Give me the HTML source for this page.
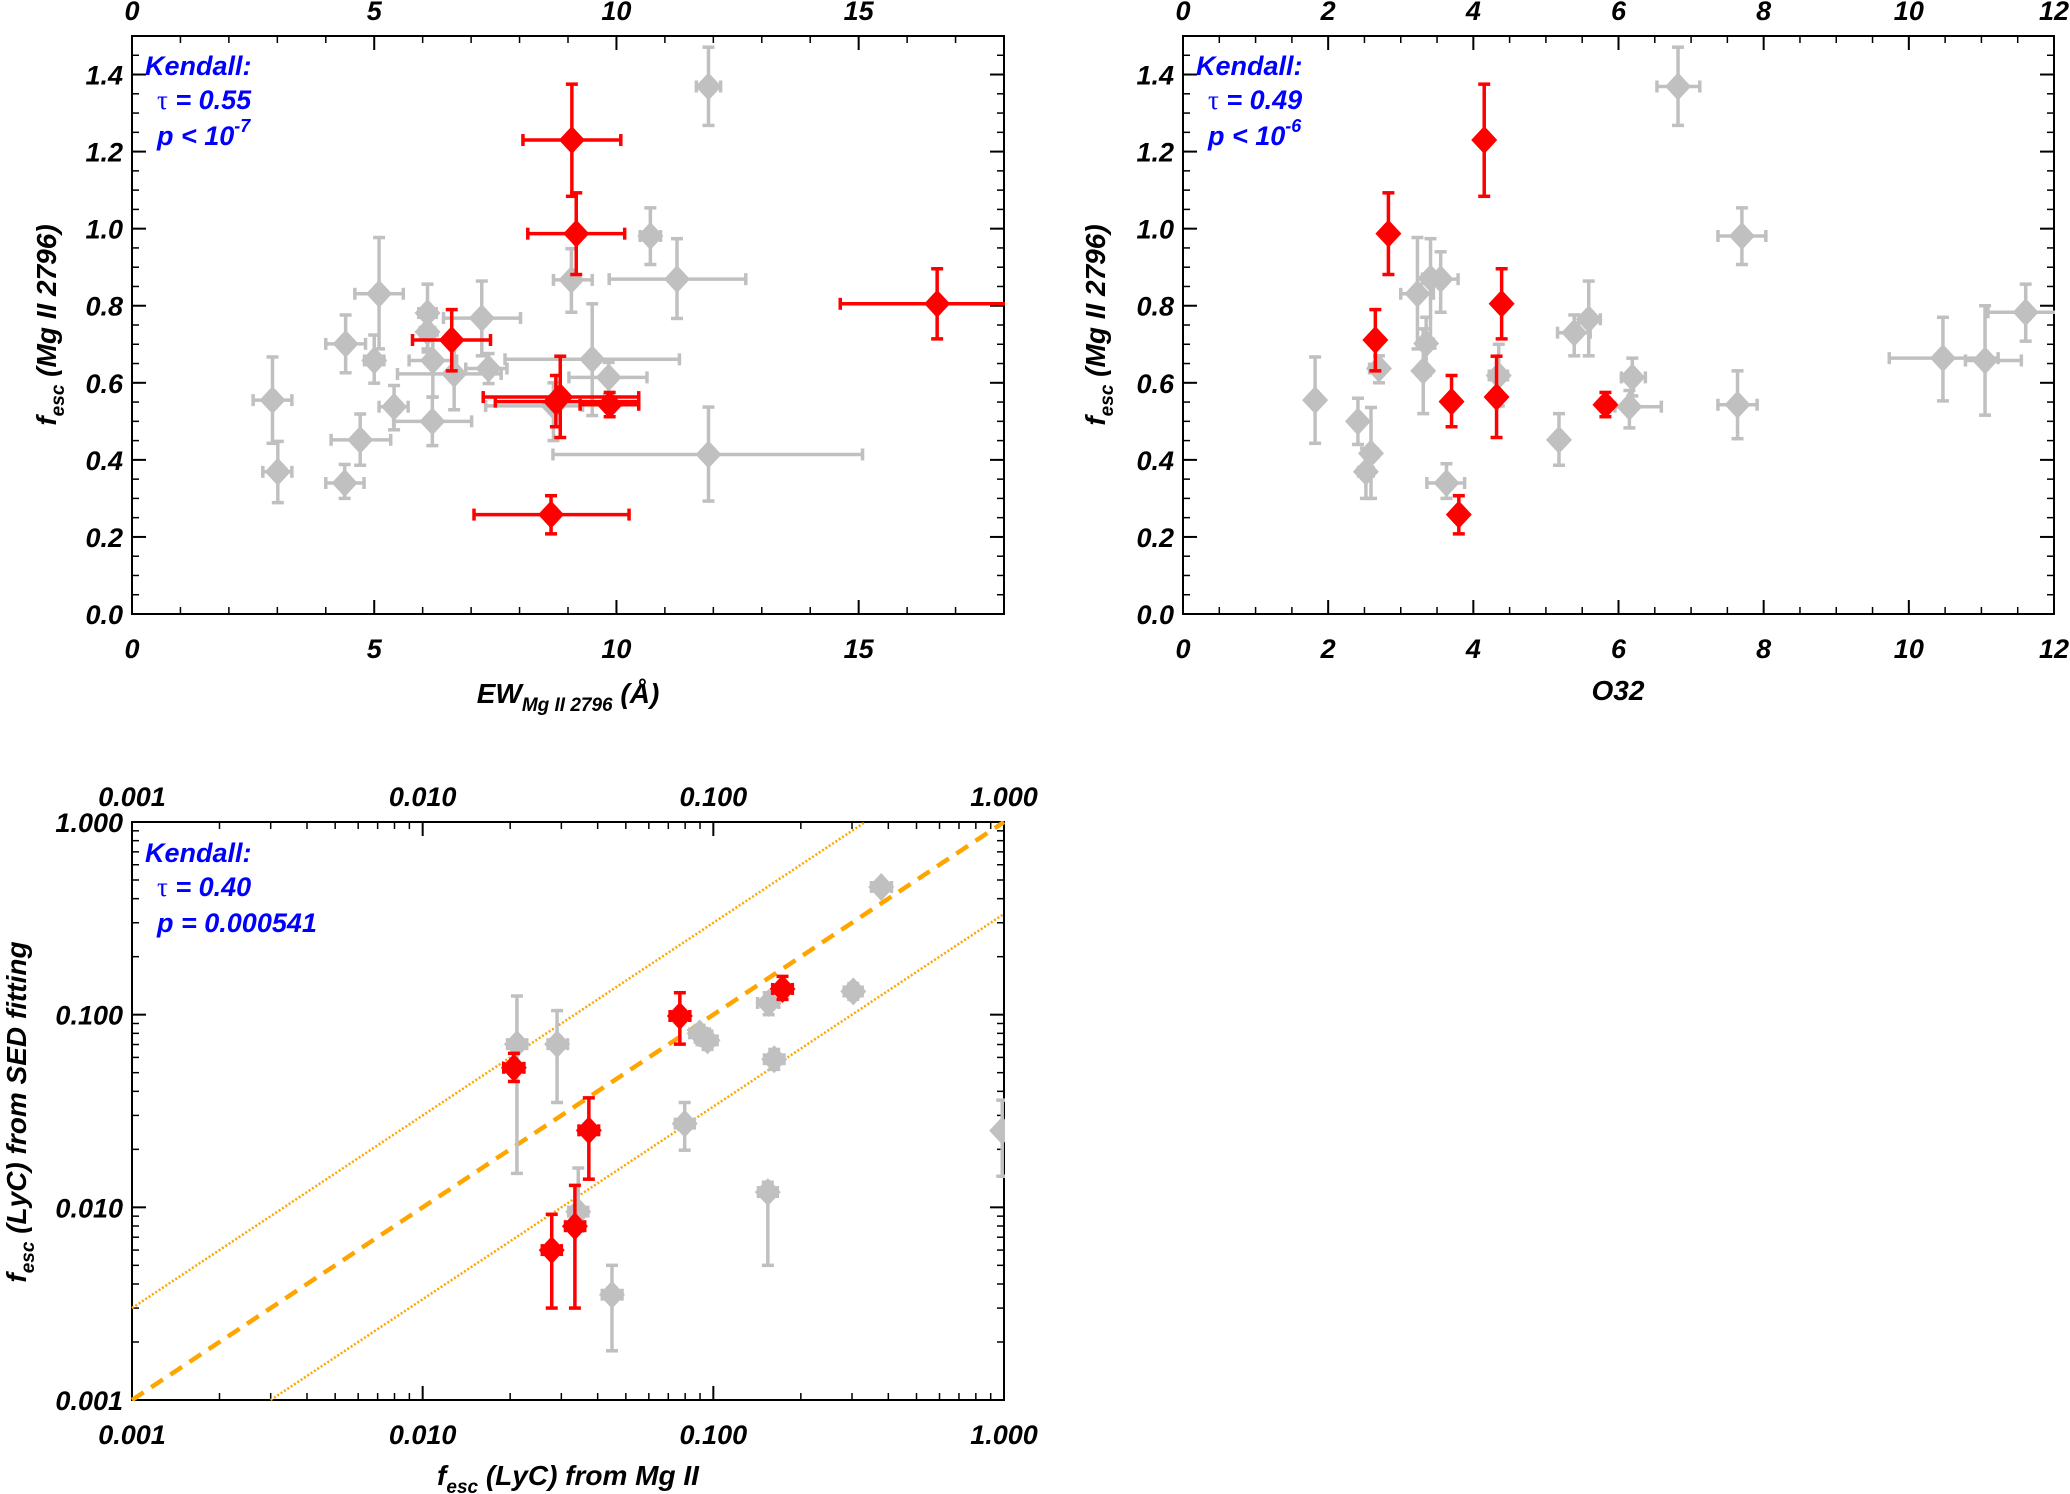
<!DOCTYPE html>
<html><head><meta charset="utf-8">
<style>
html,body{margin:0;padding:0;background:#fff;}
svg{display:block;}
text{font-family:"Liberation Sans Narrow","Liberation Sans",sans-serif;font-weight:bold;font-style:italic;}
</style></head>
<body>
<svg id="fig" width="2070" height="1494" viewBox="0 0 2070 1494" xmlns="http://www.w3.org/2000/svg"></svg>
<script>
// ---------- Panel A data: EW vs fesc ----------
const aRedX   = [9.08, 9.17, 16.62, 6.6, 8.84, 8.75, 9.86, 8.65];
const aRedY   = [1.23, 0.987, 0.805, 0.711, 0.563, 0.551, 0.543, 0.258];
const aRedXlo = [8.07, 8.17, 14.62, 5.79, 7.25, 7.5, 9.25, 7.06];
const aRedXhi = [10.09,10.17,18.6, 7.4, 10.46,10.46,10.46,10.26];
const aRedYlo = [1.084,0.881,0.714,0.631,0.458,0.486,0.512,0.208];
const aRedYhi = [1.375,1.093,0.896,0.79, 0.669,0.619,0.575,0.307];
const aGrX   = [11.9,10.7,11.25,9.07,5.1,6.1,7.22,6.1,4.41,5.0,6.21,9.5,7.36,6.65,9.84,2.9,5.41,8.7,6.2,4.71,11.9,3.01,4.39];
const aGrY   = [1.369,0.981,0.869,0.867,0.831,0.781,0.768,0.732,0.701,0.658,0.658,0.661,0.637,0.623,0.614,0.555,0.538,0.54,0.5,0.452,0.414,0.369,0.34];
const aGrXlo = [11.65,10.49,9.85,8.7,4.6,5.92,6.43,5.95,4.0,4.8,5.72,7.7,6.89,5.48,9.02,2.5,5.1,7.3,5.4,4.11,8.69,2.7,4.0];
const aGrXhi = [12.15,10.91,12.67,9.5,5.6,6.28,8.02,6.25,4.82,5.2,6.7,11.3,7.74,7.62,10.63,3.3,5.7,9.3,7.01,5.34,15.08,3.3,4.79];
const aGrYlo = [1.268,0.907,0.767,0.783,0.688,0.688,0.67,0.68,0.626,0.599,0.563,0.515,0.598,0.53,0.569,0.443,0.478,0.45,0.437,0.386,0.293,0.289,0.3];
const aGrYhi = [1.471,1.054,0.974,0.948,0.977,0.856,0.864,0.78,0.776,0.724,0.724,0.805,0.676,0.705,0.653,0.667,0.593,0.6,0.563,0.519,0.537,0.448,0.388];
// ---------- Panel B data: O32 vs fesc ----------
const bRedX   = [4.15,2.83,4.39,2.65,3.7,4.32,5.82,3.8];
const bRedY   = [1.23,0.987,0.805,0.711,0.551,0.563,0.543,0.258];
const bRedYlo = [1.084,0.881,0.714,0.631,0.486,0.458,0.512,0.208];
const bRedYhi = [1.375,1.093,0.896,0.79,0.619,0.669,0.575,0.307];
const bGrX   = [6.82,7.7,3.23,3.41,3.55,5.59,5.39,3.35,2.7,3.31,4.35,6.19,1.82,6.15,7.64,2.41,2.59,2.52,5.18,3.63,10.47,11.05,11.61];
const bGrY   = [1.369,0.981,0.831,0.871,0.869,0.765,0.73,0.702,0.637,0.631,0.619,0.614,0.555,0.538,0.543,0.5,0.417,0.369,0.452,0.34,0.664,0.658,0.783];
const bGrXlo = [6.53,7.37,3.0,3.3,3.31,5.45,5.16,3.25,2.57,3.25,4.22,6.04,1.75,5.95,7.37,2.35,2.5,2.42,5.1,3.36,9.73,10.78,11.09];
const bGrXhi = [7.12,8.03,3.45,3.52,3.79,5.75,5.61,3.45,2.77,3.37,4.47,6.37,1.9,6.59,7.91,2.47,2.68,2.62,5.26,3.88,11.23,11.55,12.1];
const bGrYlo = [1.268,0.907,0.688,0.69,0.783,0.67,0.67,0.62,0.6,0.52,0.54,0.566,0.443,0.483,0.455,0.44,0.3,0.3,0.386,0.3,0.553,0.516,0.708];
const bGrYhi = [1.471,1.054,0.977,0.974,0.94,0.864,0.776,0.77,0.67,0.74,0.7,0.664,0.667,0.58,0.631,0.56,0.536,0.43,0.52,0.39,0.77,0.80,0.856];
// ---------- Panel C data: fesc MgII vs fesc SED ----------
const cRedX   = [0.0767,0.173,0.0206,0.0373,0.0334,0.0278];
const cRedY   = [0.0984,0.136,0.053,0.0251,0.00798,0.006];
const cRedXlo = [0.071,0.16,0.019,0.0345,0.031,0.0258];
const cRedXhi = [0.083,0.187,0.0223,0.0403,0.0361,0.03];
const cRedYlo = [0.0703,0.12,0.045,0.0140,0.003,0.003];
const cRedYhi = [0.13,0.158,0.063,0.037,0.013,0.0092];
const cGrX   = [0.378,0.303,0.155,0.0897,0.0955,0.162,0.0211,0.029,0.0797,0.0343,0.154,0.0448,0.986];
const cGrY   = [0.46,0.132,0.115,0.08,0.0735,0.0587,0.0703,0.0703,0.0272,0.0095,0.012,0.00352,0.025];
const cGrXlo = [0.35,0.282,0.142,0.083,0.088,0.15,0.0196,0.027,0.074,0.0318,0.143,0.0415,0.95];
const cGrXhi = [0.41,0.325,0.168,0.097,0.103,0.175,0.0228,0.0315,0.086,0.037,0.166,0.0485,1.02];
const cGrYlo = [0.43,0.12,0.10,0.072,0.066,0.052,0.015,0.035,0.0198,0.0075,0.005,0.0018,0.0145];
const cGrYhi = [0.49,0.145,0.13,0.088,0.082,0.066,0.125,0.105,0.035,0.016,0.0135,0.005,0.036];
const aTicks = [0,5,10,15];
const bTicks = [0,2,4,6,8,10,12];
const yTicksLin = [0,0.2,0.4,0.6,0.8,1.0,1.2,1.4];
const cTicks = [0.001,0.01,0.1,1];
const cTickLabels = ["0.001","0.010","0.100","1.000"];

const svg = document.getElementById('fig');
const NS = 'http://www.w3.org/2000/svg';
function mk(tag, attrs, parent){
  const e = document.createElementNS(NS, tag);
  for (const k in attrs) e.setAttribute(k, attrs[k]);
  (parent||svg).appendChild(e);
  return e;
}
function line(g,x1,y1,x2,y2,col,w,dash){
  const l = mk('line',{x1,y1,x2,y2,stroke:col,'stroke-width':w},g);
  if(dash) l.setAttribute('stroke-dasharray',dash);
  return l;
}
function txt(g,x,y,s,size,anchor,col){
  const t = mk('text',{x,y,'font-size':size,'text-anchor':anchor||'middle',fill:col||'#000'},g);
  t.textContent = s;
  return t;
}

function panel(name, L, R, T, B, xs, ys, xMaj, xMin, yMaj, yMin, xLab, yLab){
  const g = mk('g',{});
  
  
  const ax = mk('g',{},g);
  
  
  mk('rect',{x:L,y:T,width:R-L,height:B-T,fill:'none',stroke:'#000','stroke-width':2},ax);
  xMaj.forEach((v,i)=>{const X=xs(v); line(ax,X,B,X,B-14,'#000',2); line(ax,X,T,X,T+14,'#000',2);
    txt(ax,X,B+44,xLab[i],27); txt(ax,X,T-16,xLab[i],27);});
  xMin.forEach(v=>{const X=xs(v); line(ax,X,B,X,B-7,'#000',1.5); line(ax,X,T,X,T+7,'#000',1.5);});
  yMaj.forEach((v,i)=>{const Y=ys(v); line(ax,L,Y,L+14,Y,'#000',2); line(ax,R,Y,R-14,Y,'#000',2);
    txt(ax,L-9,Y+10,yLab[i],27,'end');});
  yMin.forEach(v=>{const Y=ys(v); line(ax,L,Y,L+7,Y,'#000',1.5); line(ax,R,Y,R-7,Y,'#000',1.5);});
  return g;
}
function points(g, name, xs, ys, X, Y, Xlo, Xhi, Ylo, Yhi, col, clipId){
  const pg = mk('g',{'clip-path':'url(#'+clipId+')'},g);
  
  
  for(let i=0;i<X.length;i++){
    const px=xs(X[i]), py=ys(Y[i]);
    const m = mk('g',{},pg);
    
    
    if(Ylo && Ylo[i]!=null){const a=ys(Ylo[i]),b=ys(Yhi[i]); line(m,px,a,px,b,col,3.5); line(m,px-6,a,px+6,a,col,3.5); line(m,px-6,b,px+6,b,col,3.5);}
    if(Xlo && Xlo[i]!=null){const a=xs(Xlo[i]),b=xs(Xhi[i]); line(m,a,py,b,py,col,3.5); line(m,a,py-6,a,py+6,col,3.5); line(m,b,py-6,b,py+6,col,3.5);}
    mk('polygon',{points:`${px},${py-14} ${px+13},${py} ${px},${py+14} ${px-13},${py}`,fill:col},m);
  }
}
function clip(id,L,T,R,B){
  const d = mk('clipPath',{id});
  mk('rect',{x:L-1,y:T-1,width:R-L+2,height:B-T+2},d);
}
function kendall(g,x,y,tau,pNode){
  const k = mk('g',{},g);
  
  
  txt(k,x,y,'Kendall:',27,'start','#0000ff');
  const t = txt(k,x+12,y+34,'',27,'start','#0000ff');
  const s1 = mk('tspan',{'font-family':'Liberation Serif, serif','font-style':'normal','font-weight':'normal'},t); s1.textContent='τ';
  const s2 = mk('tspan',{},t); s2.textContent=' = '+tau;
  pNode(k,x+12,y+70);
}
function range(a,b,s){const r=[];for(let v=a;v<=b+1e-9;v+=s)r.push(+v.toFixed(4));return r;}

// ---- Panel A ----
{
  const L=132,R=1004,T=36,B=614;
  const xs=v=>L+(v/18)*(R-L), ys=v=>B-(v/1.5)*(B-T);
  clip('ca',L,T,R,B);
  const g=panel('panel-ew',L,R,T,B,xs,ys,aTicks,range(0,18,1),yTicksLin,range(0,1.5,0.05),aTicks.map(String),yTicksLin.map(v=>v.toFixed(1)));
  points(g,'gray-points',xs,ys,aGrX,aGrY,aGrXlo,aGrXhi,aGrYlo,aGrYhi,'#c0c0c0','ca');
  points(g,'red-points',xs,ys,aRedX,aRedY,aRedXlo,aRedXhi,aRedYlo,aRedYhi,'#ff0000','ca');
  kendall(g,145,75,'0.55',(k,x,y)=>{const t=txt(k,x,y,'p < 10',27,'start','#0000ff');const s=mk('tspan',{dy:-13,'font-size':18},t);s.textContent='-7';});
  const xt=txt(g,568,703,'EW',28); const s=mk('tspan',{dy:8,'font-size':19},xt); s.textContent='Mg II 2796'; const s2=mk('tspan',{dy:-8},xt); s2.textContent=' (Å)';
   
  const yt=txt(g,0,0,'f',28); yt.setAttribute('transform','translate(56,325) rotate(-90)');
  const a=mk('tspan',{dy:8,'font-size':19},yt); a.textContent='esc'; const b=mk('tspan',{dy:-8},yt); b.textContent=' (Mg II 2796)';
   
}
// ---- Panel B ----
{
  const L=1183,R=2054,T=36,B=614;
  const xs=v=>L+(v/12)*(R-L), ys=v=>B-(v/1.5)*(B-T);
  clip('cb',L,T,R,B);
  const g=panel('panel-o32',L,R,T,B,xs,ys,bTicks,range(0,12,0.5),yTicksLin,range(0,1.5,0.05),bTicks.map(String),yTicksLin.map(v=>v.toFixed(1)));
  points(g,'gray-points',xs,ys,bGrX,bGrY,bGrXlo,bGrXhi,bGrYlo,bGrYhi,'#c0c0c0','cb');
  points(g,'red-points',xs,ys,bRedX,bRedY,null,null,bRedYlo,bRedYhi,'#ff0000','cb');
  kendall(g,1196,75,'0.49',(k,x,y)=>{const t=txt(k,x,y,'p < 10',27,'start','#0000ff');const s=mk('tspan',{dy:-13,'font-size':18},t);s.textContent='-6';});
  const xt=txt(g,1618,700,'O32',28);  
  const yt=txt(g,0,0,'f',28); yt.setAttribute('transform','translate(1105,325) rotate(-90)');
  const a=mk('tspan',{dy:8,'font-size':19},yt); a.textContent='esc'; const b=mk('tspan',{dy:-8},yt); b.textContent=' (Mg II 2796)';
   
}
// ---- Panel C ----
{
  const L=132,R=1004,T=822,B=1400;
  const xs=v=>L+((Math.log10(v)+3)/3)*(R-L), ys=v=>B-((Math.log10(v)+3)/3)*(B-T);
  clip('cc',L,T,R,B);
  const minor=[]; [0.001,0.01,0.1].forEach(d=>{for(let k=2;k<=9;k++)minor.push(d*k);});
  const g=panel('panel-logfesc',L,R,T,B,xs,ys,cTicks,minor,cTicks,minor,cTickLabels,cTickLabels);
  const lg=mk('g',{'clip-path':'url(#cc)'},g);
   
  line(lg,xs(0.001),ys(0.001),xs(1),ys(1),'#ffa500',4.5,'14,9');
  line(lg,xs(0.001),ys(0.003),xs(1/3),ys(1),'#ffa500',2.5,'2,2');
  line(lg,xs(0.003),ys(0.001),xs(1),ys(1/3),'#ffa500',2.5,'2,2');
  points(g,'gray-points',xs,ys,cGrX,cGrY,cGrXlo,cGrXhi,cGrYlo,cGrYhi,'#c0c0c0','cc');
  points(g,'red-points',xs,ys,cRedX,cRedY,cRedXlo,cRedXhi,cRedYlo,cRedYhi,'#ff0000','cc');
  kendall(g,145,862,'0.40',(k,x,y)=>{txt(k,x,y,'p = 0.000541',27,'start','#0000ff');});
  const xt=txt(g,568,1485,'f',28); const a=mk('tspan',{dy:8,'font-size':19},xt); a.textContent='esc'; const b=mk('tspan',{dy:-8},xt); b.textContent=' (LyC) from Mg II';
   
  const yt=txt(g,0,0,'f',28); yt.setAttribute('transform','translate(26,1112) rotate(-90)');
  const c=mk('tspan',{dy:8,'font-size':19},yt); c.textContent='esc'; const d=mk('tspan',{dy:-8},yt); d.textContent=' (LyC) from SED fitting';
   
}
</script>
</body></html>
